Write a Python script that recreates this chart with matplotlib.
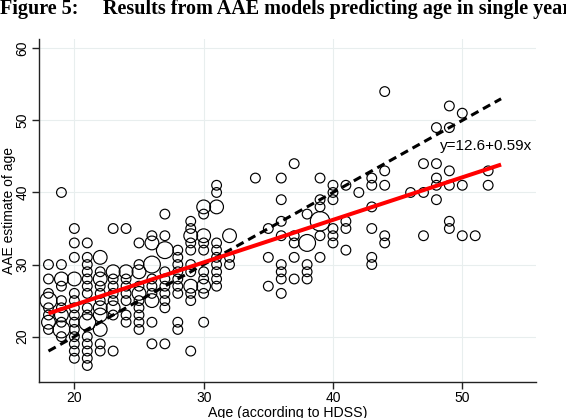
import matplotlib
matplotlib.use("Agg")
import matplotlib.pyplot as plt
import numpy as np

# ---- data: (HDSS age, AAE estimate, weight) ----
ages_x = [
    18,18,18,18,18,18,18,18,
    19,19,19,19,19,19,19,19,19,19,
    20,20,20,20,20,20,20,20,20,20,20,20,20,20,
    21,21,21,21,21,21,21,21,21,21,21,21,21,21,21,
    22,22,22,22,22,22,22,22,22,22,22,
    23,23,23,23,23,23,23,23,23,
    24,24,24,24,24,24,24,24,
    25,25,25,25,25,25,25,25,25,25,
    26,26,26,26,26,26,26,26,26,
    27,27,27,27,27,27,27,27,27,27,
    28,28,28,28,28,28,28,28,28,
    29,29,29,29,29,29,29,29,29,29,29,
    30,30,30,30,30,30,30,30,30,30,
    31,31,31,31,31,31,31,31,31,31,
    32,32,32,
    34,
    35,35,35,
    36,36,36,36,36,36,36,36,
    37,37,37,37,37,
    38,38,38,38,38,
    39,39,39,39,39,39,
    40,40,40,40,40,40,
    41,41,41,41,
    42,
    43,43,43,43,43,43,
    44,44,44,44,44,
    46,
    47,47,47,
    48,48,48,48,48,
    49,49,49,49,49,49,
    50,50,50,
    51,
    52,52,
]
aae_y = [
    30,28,26,25,24,23,22,21,
    40,30,28,27,25,24,23,22,21,20,
    35,33,31,28,26,25,24,23,22,21,20,19,18,17,
    33,31,30,29,28,27,26,24,23,22,20,19,18,17,16,
    31,29,28,27,26,25,24,23,21,19,18,
    35,29,28,27,26,25,24,23,18,
    35,29,28,27,26,25,23,22,
    33,30,29,27,26,25,24,23,22,21,
    34,33,30,28,27,26,25,22,19,
    37,34,32,29,28,27,26,25,24,19,
    32,31,30,29,28,27,26,22,21,
    36,35,34,33,32,30,29,27,26,25,18,
    38,37,34,33,32,29,28,27,26,22,
    41,40,38,33,32,31,30,29,28,27,
    34,31,30,
    42,
    35,31,27,
    42,39,36,34,30,29,28,26,
    44,34,33,31,28,
    37,33,30,29,28,
    42,39,38,36,34,31,
    41,40,39,35,34,33,
    41,36,35,32,
    40,
    42,41,38,35,31,30,
    54,43,41,34,33,
    40,
    44,40,34,
    49,44,42,41,39,
    52,49,43,41,36,35,
    51,41,34,
    34,
    43,41,
]
weights = [
    1,1,1,3,1,1,2,1,
    1,1,2,1,1,1,2,1,3,1,
    1,1,1,2,1,1,1,1,1,1,1,1,1,1,
    1,1,1,1,1,1,1,1,1,3,1,1,1,1,1,
    2,1,2,1,1,1,2,2,2,1,1,
    1,2,1,1,1,1,2,1,1,
    1,2,1,1,1,1,1,1,
    1,1,2,1,2,1,1,1,1,1,
    1,2,3,1,1,1,2,1,1,
    1,1,3,1,1,1,1,1,1,1,
    1,1,1,1,1,1,1,1,1,
    1,1,2,1,1,1,1,2,1,1,1,
    2,1,2,1,1,1,1,2,1,1,
    1,1,2,1,1,1,1,1,1,1,
    2,1,1,
    1,
    1,1,1,
    1,1,1,1,1,1,1,1,
    1,1,1,1,1,
    1,3,1,1,1,
    1,1,1,4,1,1,
    1,1,1,1,1,1,
    1,1,1,1,
    1,
    1,1,1,1,1,1,
    1,1,1,1,1,
    1,
    1,1,1,
    1,1,1,1,1,
    1,1,1,1,1,1,
    1,1,1,
    1,
    1,1,
]

fit_intercept = 12.6
fit_slope = 0.59
line_range = [18, 53]
fit_label = "y=12.6+0.59x"

x_ticks = [20, 30, 40, 50]
y_ticks = [20, 30, 40, 50, 60]

# ---- figure ----
W, H = 566, 418
fig = plt.figure(figsize=(W / 100, H / 100), dpi=100)
fig.patch.set_facecolor("white")

left, right, bottom, top = 39.3, 536.0, 381.7, 39.3
ax = fig.add_axes([left / W, 1 - bottom / H, (right - left) / W, (bottom - top) / H])
ax.set_xlim(17.29, 55.7)
ax.set_ylim(13.75, 61.25)

sans = ["Liberation Sans", "DejaVu Sans"]

# grid
for gx in x_ticks:
    ax.axvline(gx, color="#e8eeee", lw=0.8, zorder=0)
for gy in y_ticks:
    ax.axhline(gy, color="#e8eeee", lw=0.8, zorder=0)

# scatter (area proportional to weight)
sizes = np.array(weights) * 49.0
ax.scatter(ages_x, aae_y, s=sizes, facecolors="none", edgecolors="black",
           linewidths=0.85, zorder=2)

# lines
lx = np.array(line_range, dtype=float)
ax.plot(lx, lx, color="black", lw=2.2, linestyle=(0, (2.7, 1.7)), zorder=3,
        solid_capstyle="butt", dash_capstyle="butt")
ax.plot(lx, fit_intercept + fit_slope * lx, color="#ff0000", lw=2.9, zorder=4,
        solid_capstyle="butt")

ax.text(48.3, 46.5, fit_label, fontsize=11, family=sans, va="center", ha="left",
        zorder=5)

# spines
for s in ["top", "right"]:
    ax.spines[s].set_visible(False)
for s in ["left", "bottom"]:
    ax.spines[s].set_linewidth(1.0)
    ax.spines[s].set_color("#222222")

ax.set_xticks(x_ticks)
ax.set_yticks(y_ticks)
ax.set_xticklabels([str(t) for t in x_ticks], fontsize=10, family=sans)
ax.set_yticklabels([str(t) for t in y_ticks], fontsize=10, family=sans,
                   rotation=90, va="center")
ax.tick_params(axis="both", length=5, width=1.0, color="#222222", pad=2)

fig.text(9 / W, 1 - 210.5 / H, "AAE estimate of age", rotation=90,
         ha="center", va="center", fontsize=10, family=sans)
fig.text(287.7 / W, 1 - 406 / H, "Age (according to HDSS)", ha="center",
         va="top", fontsize=10.2, family=sans)

serif = ["Liberation Serif", "DejaVu Serif"]
fig.text(0.5 / W, 1 - 14 / H, "Figure 5:", ha="left", va="baseline",
         fontsize=14.5, fontweight="bold", family=serif)
fig.text(103 / W, 1 - 14 / H,
         "Results from AAE models predicting age in single years",
         ha="left", va="baseline", fontsize=14.5, fontweight="bold", family=serif)

fig.savefig("out.png", dpi=100, facecolor="white")
